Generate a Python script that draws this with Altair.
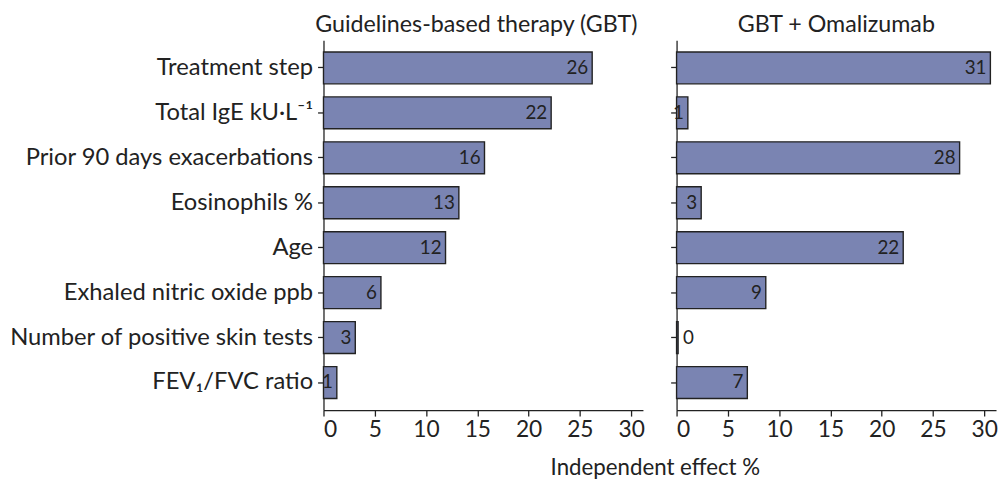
import altair as alt
import pandas as pd

factors = [
    "Treatment step",
    "Total IgE kU·L⁻¹",
    "Prior 90 days exacerbations",
    "Eosinophils %",
    "Age",
    "Exhaled nitric oxide ppb",
    "Number of positive skin tests",
    "FEV₁/FVC ratio",
]
gbt_values = [26.2, 22.2, 15.7, 13.2, 11.9, 5.6, 3.1, 1.3]
gbt_labels = [26, 22, 16, 13, 12, 6, 3, 1]
oma_values = [30.6, 1.1, 27.6, 2.4, 22.1, 8.7, 0.15, 6.9]
oma_labels = [31, 1, 28, 3, 22, 9, 0, 7]
x_ticks = [0, 5, 10, 15, 20, 25, 30]

FONT = "Lato"
BAR = "#7a84b2"
INK = "#222222"
W, H = 323, 374


def panel(values, labels, title, show_labels, show_xtitle, title_dx):
    df = pd.DataFrame({"factor": factors, "value": values, "label": labels})
    x = alt.X(
        "value:Q",
        scale=alt.Scale(domain=[0, 31.15], nice=False, zero=True),
        axis=alt.Axis(
            values=x_ticks,
            grid=False,
            title="Independent effect %" if show_xtitle else None,
            titleX=335 if show_xtitle else 0,
            titleAlign="center",
            titleFontWeight="normal",
            titleFontSize=22.5,
            titleFont=FONT,
            titleColor=INK,
            titlePadding=15,
            labelFontSize=23,
            tickSize=6,
            labelPadding=3,
        ),
    )
    y = alt.Y(
        "factor:N",
        sort=factors,
        scale=alt.Scale(paddingInner=0.29, paddingOuter=0.26),
        axis=alt.Axis(
            title=None,
            grid=False,
            labels=show_labels,
            labelFontSize=24,
            labelLimit=500,
            labelPadding=5,
            tickSize=6,
        ),
    )
    bars = alt.Chart(df).mark_bar(
        fill=BAR, stroke=INK, strokeWidth=1.4
    ).encode(x=x, y=y)
    inside = alt.Chart(df).transform_filter("datum.value >= 0.5").mark_text(
        align="right", baseline="middle", dx=-4, fontSize=19, font=FONT, color=INK
    ).encode(x="value:Q", y=alt.Y("factor:N", sort=factors), text="label:N")
    outside = alt.Chart(df).transform_filter("datum.value < 0.5").mark_text(
        align="left", baseline="middle", dx=5, fontSize=19, font=FONT, color=INK
    ).encode(x="value:Q", y=alt.Y("factor:N", sort=factors), text="label:N")
    return alt.layer(bars, inside, outside).properties(
        width=W,
        height=H,
        title=alt.TitleParams(
            text=title, frame="group", anchor="middle", dx=title_dx,
            fontSize=23.5, font=FONT, fontWeight="normal", color=INK, offset=4,
        ),
    )


left = panel(gbt_values, gbt_labels, "Guidelines-based therapy (GBT)", True, True, -7)
right = panel(oma_values, oma_labels, "GBT + Omalizumab", False, False, 0)

chart = alt.hconcat(
    left, right, spacing=34, bounds="flush",
    padding={"left": 0, "right": 0, "top": 2, "bottom": 0},
).configure_view(
    strokeWidth=0
).configure_axis(
    labelFont=FONT,
    labelColor=INK,
    domainColor=INK,
    tickColor=INK,
    domainWidth=1.3,
    tickWidth=1.3,
    grid=False,
)

chart.save("out.html", embed_options={"renderer": "svg", "actions": False})
